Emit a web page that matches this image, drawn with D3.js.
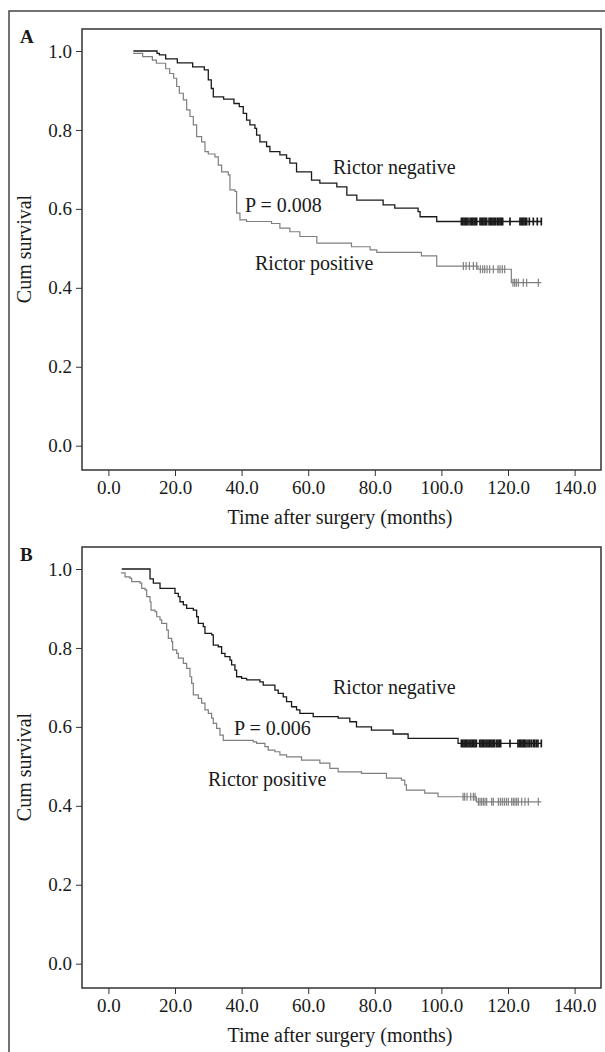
<!DOCTYPE html>
<html>
<head>
<meta charset="utf-8">
<script src="https://cdn.jsdelivr.net/npm/d3@7"></script>
<style>
  body { margin: 0; background: #fff; }
  svg text { font-family: "Liberation Serif", "Times New Roman", serif; fill: #1a1a1a; }
</style>
</head>
<body>
<svg width="605" height="1052"></svg>
<script>
// ---- data ----
var xTicks = [0, 20, 40, 60, 80, 100, 120, 140];
var yTicks = [0, 0.2, 0.4, 0.6, 0.8, 1.0];

// panel A
var negTimesA = [7.5, 14.6, 15.3, 17.2, 20.7, 25.3, 28.8, 30, 30.9, 31.5, 34.6, 37.7, 39.3, 40.5, 41.5, 42.5, 44, 44.5, 45.5, 47.5, 48.5, 51.5, 53.5, 54.5, 56.5, 61, 63.5, 68.6, 71.6, 74.6, 82.5, 86, 93, 93.6, 98.6, 130];
var negSurvA = [1.0, 0.994, 0.990, 0.980, 0.970, 0.960, 0.952, 0.927, 0.905, 0.884, 0.878, 0.867, 0.859, 0.842, 0.825, 0.813, 0.804, 0.787, 0.770, 0.758, 0.745, 0.737, 0.728, 0.716, 0.694, 0.673, 0.665, 0.656, 0.635, 0.622, 0.610, 0.602, 0.593, 0.580, 0.568, 0.568];
var negCensA = [106.0, 106.4, 106.8, 107.2, 107.6, 108.0, 108.6, 109.0, 109.4, 109.8, 110.2, 110.6, 111.6, 112.0, 112.4, 112.8, 113.2, 113.6, 114.3, 114.7, 115.1, 115.5, 115.9, 116.3, 116.8, 117.2, 117.6, 118.0, 118.4, 120.6, 123.6, 124.0, 124.4, 124.8, 125.2, 125.6, 126.4, 127.6, 128.8, 130];

var posTimesA = [7.4, 10.3, 13.2, 14.4, 17.2, 18.4, 19.6, 20.5, 21.3, 22.5, 23.5, 24.5, 25.5, 26.5, 28, 29, 30, 32, 33, 34, 36, 36.5, 38, 38.5, 39.5, 41.5, 49, 51.5, 54.5, 57.5, 62.6, 73, 78.6, 80.6, 94, 98.6, 111, 121, 130];
var posSurvA = [0.994, 0.986, 0.977, 0.969, 0.955, 0.943, 0.931, 0.910, 0.893, 0.876, 0.851, 0.834, 0.813, 0.783, 0.770, 0.745, 0.739, 0.732, 0.711, 0.694, 0.686, 0.648, 0.644, 0.589, 0.572, 0.568, 0.563, 0.551, 0.542, 0.530, 0.513, 0.504, 0.496, 0.490, 0.481, 0.455, 0.447, 0.413, 0.413];
var posCensA = [106.6, 107.4, 108.4, 109.6, 110.6, 111.7, 112.4, 113.0, 113.7, 114.5, 115.6, 117.0, 117.6, 118.3, 119.0, 121.5, 122.0, 122.5, 123.1, 124.6, 125.6, 129.1];

// panel B
var negTimesB = [4, 12.5, 13.5, 15.5, 20, 21, 21.5, 22.5, 23.5, 25.5, 26.5, 27, 28.5, 29, 31, 31.5, 33, 34, 35, 36.5, 37, 38, 38.5, 40, 41.5, 45.5, 46.5, 50, 51, 52.5, 53.5, 55, 56.5, 57.5, 61.5, 69, 72.5, 74.5, 79, 85.5, 90, 105, 130];
var negSurvB = [1.0, 0.975, 0.964, 0.951, 0.938, 0.930, 0.917, 0.909, 0.900, 0.896, 0.879, 0.862, 0.854, 0.837, 0.833, 0.807, 0.803, 0.786, 0.778, 0.769, 0.757, 0.744, 0.727, 0.723, 0.719, 0.714, 0.706, 0.693, 0.685, 0.676, 0.664, 0.651, 0.643, 0.634, 0.626, 0.622, 0.613, 0.600, 0.592, 0.582, 0.571, 0.558, 0.558];
var negCensB = [106.0, 106.4, 106.8, 107.2, 107.6, 108.0, 108.5, 108.9, 109.3, 109.7, 110.1, 110.5, 111.5, 111.9, 112.3, 112.7, 113.1, 113.6, 114.0, 114.4, 114.8, 115.2, 115.6, 116.0, 116.6, 117.0, 117.4, 117.8, 120.6, 123.0, 123.4, 123.8, 124.2, 124.6, 125.0, 125.4, 126.0, 126.5, 127.0, 127.6, 128.0, 128.5, 129.0, 130];

var posTimesB = [3.8, 5, 6.5, 7, 9.5, 10, 11, 11.5, 12.5, 12.8, 14, 14.5, 15.5, 16, 17.5, 18, 19, 19.3, 20.5, 21, 22.5, 23.5, 24.5, 25, 25.5, 27, 28, 29, 30, 31, 31.5, 32.5, 33.5, 34.5, 43.5, 44.5, 47, 48, 50, 51.5, 53.5, 58, 63.5, 66.5, 69, 76, 83.5, 88, 89, 89.5, 95, 99, 110.5, 130];
var posSurvB = [0.99, 0.980, 0.976, 0.968, 0.964, 0.951, 0.947, 0.930, 0.917, 0.896, 0.892, 0.879, 0.871, 0.862, 0.845, 0.824, 0.816, 0.795, 0.786, 0.774, 0.761, 0.748, 0.727, 0.710, 0.681, 0.672, 0.660, 0.643, 0.634, 0.622, 0.609, 0.596, 0.579, 0.566, 0.562, 0.558, 0.550, 0.541, 0.537, 0.529, 0.524, 0.516, 0.508, 0.495, 0.486, 0.482, 0.470, 0.465, 0.453, 0.440, 0.432, 0.423, 0.410, 0.410];
var posCensB = [106.5, 107.0, 107.7, 108.8, 109.6, 110.1, 111.1, 111.6, 112.1, 112.6, 113.1, 113.6, 115.1, 115.6, 117.1, 117.7, 118.3, 118.9, 119.5, 120.1, 121.1, 121.6, 122.1, 122.6, 123.1, 124.1, 125.1, 126.1, 129.1];

var panels = [
  { label: "A", dy: 0, pval: "P = 0.008",
    neg: [negTimesA, negSurvA, negCensA], pos: [posTimesA, posSurvA, posCensA],
    negText: [333, 174], pText: [245, 212], posText: [255, 270] },
  { label: "B", dy: 518, pval: "P = 0.006",
    neg: [negTimesB, negSurvB, negCensB], pos: [posTimesB, posSurvB, posCensB],
    negText: [333, 694], pText: [234, 735], posText: [208, 786] }
];

var svg = d3.select("svg");

// outer frame (right and bottom edges run off the page)
svg.append("rect")
  .attr("x", 9).attr("y", 11)
  .attr("width", 610).attr("height", 1060)
  .attr("fill", "none").attr("stroke", "#444").attr("stroke-width", 1.5);

var x = d3.scaleLinear().domain([0, 140]).range([108.4, 574.6]);

function survAt(times, surv, t) {
  var s = surv[0];
  for (var i = 0; i < times.length; i++) {
    if (times[i] <= t) s = surv[i];
  }
  return s;
}

panels.forEach(function (p) {
  var top = 29 + p.dy, bottom = 470 + p.dy;
  var y = d3.scaleLinear().domain([0, 1]).range([445.7 + p.dy, 51 + p.dy]);
  var g = svg.append("g");

  g.append("rect")
    .attr("x", 82).attr("y", top)
    .attr("width", 519).attr("height", bottom - top)
    .attr("fill", "none").attr("stroke", "#333").attr("stroke-width", 1.5);

  // y axis
  var yAxis = g.append("g")
    .attr("transform", "translate(82,0)")
    .call(d3.axisLeft(y).tickValues(yTicks).tickSize(6).tickPadding(4)
      .tickFormat(d3.format(".1f")));
  yAxis.select(".domain").remove();
  yAxis.selectAll("line").attr("stroke", "#333");
  yAxis.selectAll("text").attr("font-size", 19).attr("fill", "#1a1a1a")
    .style("font-family", "'Liberation Serif', serif");

  // x axis
  var xAxis = g.append("g")
    .attr("transform", "translate(0," + bottom + ")")
    .call(d3.axisBottom(x).tickValues(xTicks).tickSize(6).tickPadding(5)
      .tickFormat(d3.format(".1f")));
  xAxis.select(".domain").remove();
  xAxis.selectAll("line").attr("stroke", "#333");
  xAxis.selectAll("text").attr("font-size", 19).attr("fill", "#1a1a1a")
    .style("font-family", "'Liberation Serif', serif");

  g.append("text")
    .attr("x", 340).attr("y", 524 + p.dy)
    .attr("text-anchor", "middle").attr("font-size", 20)
    .text("Time after surgery (months)");

  g.append("text")
    .attr("transform", "translate(31," + (249 + p.dy) + ") rotate(-90)")
    .attr("text-anchor", "middle").attr("font-size", 20)
    .text("Cum survival");

  g.append("text")
    .attr("x", 20).attr("y", 43 + p.dy)
    .attr("font-size", 19).attr("font-weight", "bold")
    .text(p.label);

  var line = d3.line()
    .x(function (d) { return x(d[0]); })
    .y(function (d) { return y(d[1]); })
    .curve(d3.curveStepAfter);

  [[p.pos, "#7f7f7f", 1.2, 1.2], [p.neg, "#1a1a1a", 1.3, 1.7]].forEach(function (c) {
    var times = c[0][0], surv = c[0][1], cens = c[0][2];
    g.append("path")
      .datum(d3.zip(times, surv))
      .attr("fill", "none")
      .attr("stroke", c[1])
      .attr("stroke-width", c[2])
      .attr("d", line);
    g.selectAll(null)
      .data(cens)
      .enter().append("line")
      .attr("x1", function (d) { return x(d); })
      .attr("x2", function (d) { return x(d); })
      .attr("y1", function (d) { return y(survAt(times, surv, d)) - 4; })
      .attr("y2", function (d) { return y(survAt(times, surv, d)) + 4; })
      .attr("stroke", c[1])
      .attr("stroke-width", c[3]);
  });

  g.append("text").attr("x", p.negText[0]).attr("y", p.negText[1])
    .attr("font-size", 20).text("Rictor negative");
  g.append("text").attr("x", p.pText[0]).attr("y", p.pText[1])
    .attr("font-size", 20).text(p.pval);
  g.append("text").attr("x", p.posText[0]).attr("y", p.posText[1])
    .attr("font-size", 20).text("Rictor positive");
});
</script>
</body>
</html>
